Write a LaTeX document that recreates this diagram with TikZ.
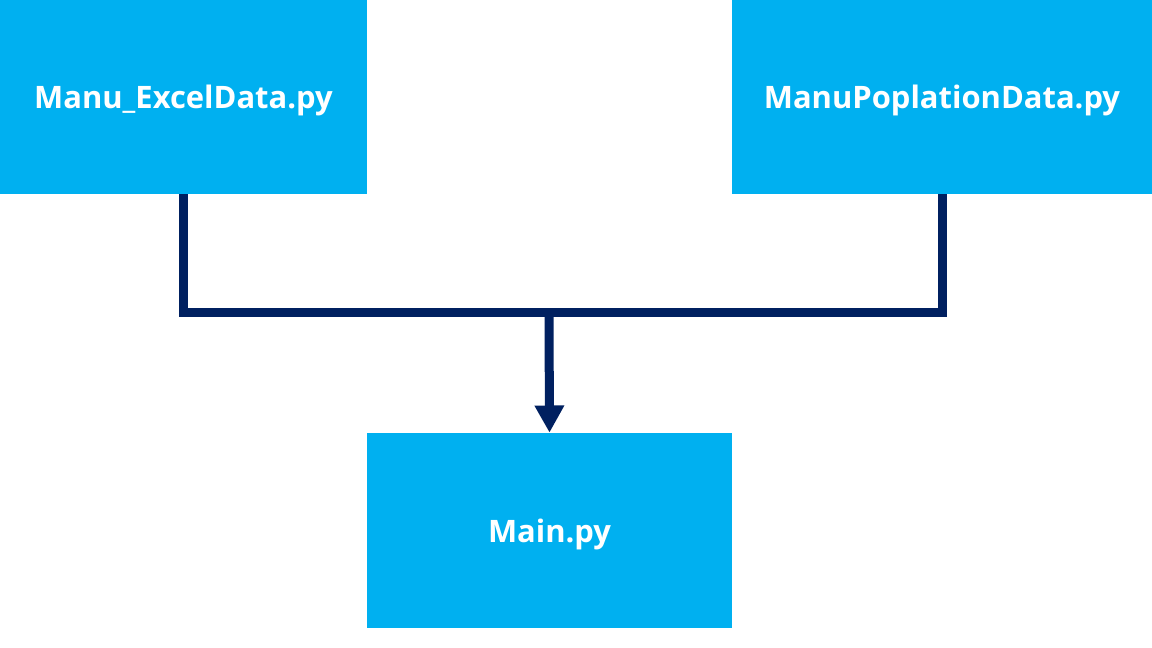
\documentclass[tikz,border=0pt]{standalone}
\usepackage{fontspec}
\setmainfont{Open Sans}
\usetikzlibrary{arrows.meta}
\definecolor{boxblue}{HTML}{00B0F0}
\definecolor{linenavy}{HTML}{002060}
\tikzset{
    filebox/.style={fill=boxblue, text=white, font=\bfseries\fontsize{22}{26}\selectfont, inner sep=0pt, text depth=0pt, anchor=center},
    link/.style={draw=linenavy, line width=0.225cm}
}
\begin{document}
\begin{tikzpicture}[x=0.025cm, y=-0.025cm]
        \useasboundingbox (0,0) rectangle (1152,648);
        \node[filebox, minimum width=9.175cm, minimum height=4.85cm] (excel) at (183.5,97) {Manu\_ExcelData.py};
        \node[filebox, minimum width=10.5cm, minimum height=4.85cm] (popl) at (942,97) {ManuPoplationData.py};
        \node[filebox, minimum width=9.125cm, minimum height=4.875cm] (main) at (549.5,530.5) {Main.py};
        \coordinate (bus) at (549,313);
        \draw[link] (excel.south) |- (bus) -| (popl.south);
        \draw[link, -{Triangle[width=0.7cm, length=0.68cm]}] (bus) -- (main.north);
    \end{tikzpicture}
\end{document}
